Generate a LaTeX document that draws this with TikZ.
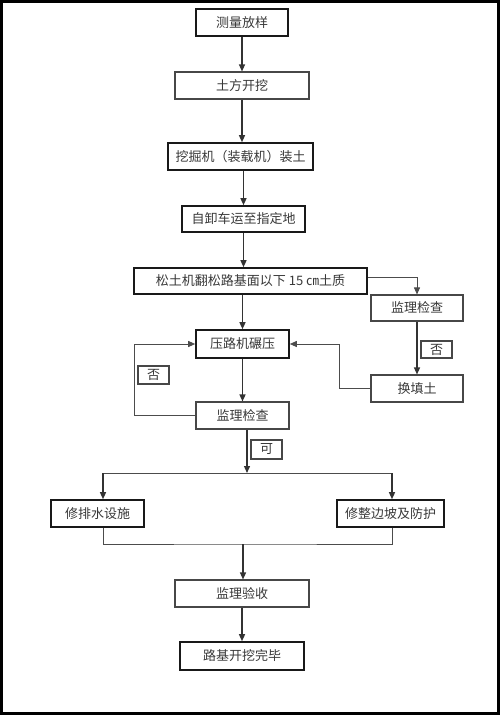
\documentclass[tikz,border=0pt]{standalone}
\usepackage{fontspec}
\newfontfamily\cjk{Noto Sans CJK SC}
\usetikzlibrary{arrows.meta}
\begin{document}
\begin{tikzpicture}[x=1pt,y=-1pt,
  box/.style={draw=black!90, line width=1.6pt, inner sep=0pt, minimum height=27pt, text=black!78, font=\cjk\fontsize{13}{13}\selectfont},
  lbox/.style={box, draw=black!72, line width=1.1pt},
  tag/.style={lbox, minimum width=31pt, minimum height=18pt},
  arr/.style={line width=1.3pt, black!80, -{Triangle[length=7pt,width=6pt]}},
  ln/.style={line width=0.9pt, black!70},
  larr/.style={ln, -{Triangle[length=7pt,width=6pt]}}]
\useasboundingbox (0,0) rectangle (500,715);
\draw[line width=3pt] (1.5,1.5) rectangle (498.5,713.5);

\node[box,  minimum width=92pt]  (n1)  at (242,22.5)   {测量放样};
\node[lbox, minimum width=134pt] (n2)  at (242,85.5)   {土方开挖};
\node[box,  minimum width=145pt] (n3)  at (240.5,156.5){挖掘机（装载机）装土};
\node[box,  minimum width=123pt, minimum height=26pt] (n4) at (243.5,219) {自卸车运至指定地};
\node[box,  minimum width=233pt, minimum height=26pt] (n5) at (250.5,281) {松土机翻松路基面以下 15 ㎝土质};
\node[lbox, minimum width=92pt,  minimum height=26pt] (n6) at (417,308)   {监理检查};
\node[lbox, minimum width=92pt]  (n7)  at (417,388.5)  {换填土};
\node[box,  minimum width=93pt,  minimum height=28pt] (n8) at (242.5,344) {压路机碾压};
\node[lbox, minimum width=93pt]  (n9)  at (242.5,415.5){监理检查};
\node[box,  minimum width=93pt]  (n10) at (97.5,513.5) {修排水设施};
\node[box,  minimum width=107pt] (n11) at (390.5,513.5){修整边坡及防护};
\node[lbox, minimum width=134pt] (n12) at (242,593.5)  {监理验收};
\node[box,  minimum width=124pt, minimum height=28pt] (n13) at (242,656) {路基开挖完毕};

\node[tag, minimum height=17pt] (t1) at (436.5,349.5) {否};
\node[tag] (t2) at (153.5,375) {否};
\node[tag, minimum height=19pt] (t3) at (266.5,449.5) {可};

% main chain
\draw[arr] (n1.south) -- (n1.south |- n2.north);
\draw[arr] (n2.south) -- (n2.south |- n3.north);
\draw[arr] (n4.north |- n3.south) -- (n4.north);
\draw[arr] (n4.south) -- (n4.south |- n5.north);
\draw[arr] (n8.north |- n5.south) -- (n8.north);
\draw[arr] (n8.south) -- (n8.south |- n9.north);

% right branch
\draw[larr] (n5.east |- 0,277) -| (n6.north);
\draw[arr] (n6.south) -- (n7.north);
\draw[larr] (n7.west) -- (339,388.5) |- (n8.east);

% left loop
\draw[larr] (n9.west) -- (134,415.5) |- (n8.west);

% split
\coordinate (sp) at (247,473);
\draw[arr] (n9.south -| sp) -- (sp);
\draw[ln] (103,473) -- (392,473);
\draw[arr] (103,473) -- (103,0 |- n10.north);
\draw[arr] (392,473) -- (392,0 |- n11.north);

% merge
\coordinate (mg) at (243,544);
\draw[ln] (n10.south -| 103,0) |- (mg) -| (n11.south -| 392,0);
\draw[arr] (mg) -- (mg |- n12.north);
\draw[arr] (n12.south) -- (n13.north);
\end{tikzpicture}
\end{document}
